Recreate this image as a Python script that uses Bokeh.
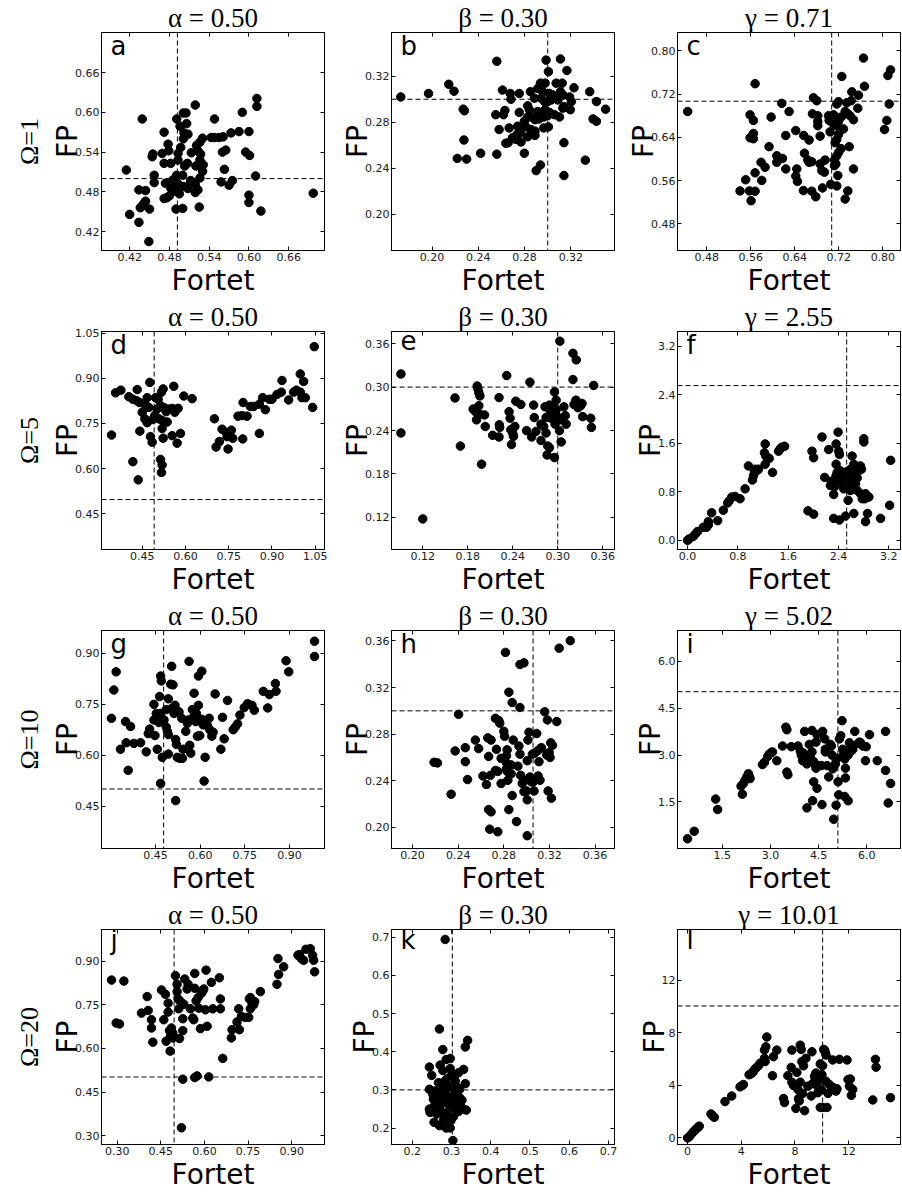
from bokeh.plotting import figure
from bokeh.models import Span, Label, Title, FixedTicker, PrintfTickFormatter, LinearAxis, Range1d
from bokeh.layouts import column, row
from bokeh.embed import file_html
from bokeh.resources import INLINE

# ---------------- data ----------------
a_x = [0.612,0.612,0.590,0.519,0.501,0.505,0.491,0.548,0.439,0.496,0.506,0.472,0.502,0.508,0.573,0.585,0.600,0.543,0.548,0.555,0.561,0.530,0.526,0.501,0.478,0.497,0.521,0.479,0.469,0.455,0.454,0.493,0.513,0.523,0.527,0.560,0.565,0.595,0.601,0.472,0.482,0.493,0.507,0.503,0.520,0.531,0.526,0.563,0.415,0.530,0.457,0.491,0.500,0.512,0.516,0.526,0.610,0.575,0.570,0.558,0.457,0.474,0.485,0.490,0.494,0.496,0.502,0.508,0.519,0.482,0.486,0.434,0.444,0.495,0.480,0.476,0.472,0.519,0.523,0.600,0.600,0.444,0.441,0.439,0.436,0.450,0.490,0.500,0.525,0.618,0.420,0.434,0.449,0.697]
a_y = [0.621,0.609,0.600,0.611,0.599,0.599,0.590,0.590,0.590,0.579,0.583,0.570,0.569,0.567,0.569,0.571,0.571,0.562,0.562,0.562,0.563,0.561,0.555,0.560,0.552,0.547,0.550,0.542,0.538,0.537,0.533,0.538,0.539,0.542,0.537,0.540,0.543,0.540,0.535,0.523,0.523,0.528,0.523,0.519,0.519,0.521,0.528,0.514,0.513,0.511,0.505,0.505,0.505,0.497,0.494,0.501,0.504,0.497,0.490,0.495,0.494,0.493,0.498,0.495,0.491,0.487,0.488,0.485,0.491,0.486,0.481,0.483,0.482,0.477,0.474,0.471,0.470,0.479,0.483,0.475,0.464,0.466,0.462,0.459,0.456,0.454,0.454,0.455,0.457,0.451,0.446,0.434,0.405,0.478]

b_x = [0.173,0.197,0.2145,0.219,0.256,0.2986,0.311,0.3006,0.3166,0.2937,0.2977,0.3073,0.3125,0.3227,0.2609,0.2676,0.2754,0.285,0.2914,0.2957,0.3015,0.3044,0.3059,0.311,0.3131,0.3189,0.3204,0.3363,0.3421,0.2682,0.2885,0.2943,0.2972,0.300,0.303,0.3088,0.314,0.3195,0.227,0.228,0.263,0.2551,0.2618,0.2754,0.2827,0.2841,0.2914,0.2948,0.2977,0.3015,0.3059,0.3102,0.3131,0.350,0.3392,0.3421,0.2827,0.2856,0.2798,0.289,0.2925,0.2966,0.300,0.258,0.2667,0.274,0.2812,0.2856,0.289,0.2966,0.3006,0.2734,0.2763,0.2696,0.2725,0.2638,0.2658,0.2769,0.2827,0.289,0.2276,0.314,0.2798,0.256,0.242,0.2299,0.2218,0.3325,0.2937,0.290,0.314]
b_y = [0.302,0.305,0.313,0.307,0.333,0.334,0.335,0.324,0.325,0.314,0.314,0.314,0.314,0.310,0.308,0.305,0.305,0.3066,0.3094,0.3066,0.305,0.3037,0.302,0.3066,0.3037,0.302,0.298,0.3066,0.298,0.300,0.3009,0.3009,0.298,0.298,0.2994,0.2994,0.2937,0.2909,0.2914,0.290,0.2903,0.2866,0.2866,0.2886,0.2943,0.2909,0.2894,0.288,0.2909,0.2886,0.2866,0.2846,0.2923,0.2914,0.2829,0.2809,0.2846,0.2846,0.2809,0.2823,0.2829,0.2846,0.2857,0.2737,0.2751,0.2766,0.276,0.2737,0.2723,0.2751,0.276,0.2694,0.2709,0.2666,0.2651,0.2617,0.2623,0.2629,0.2674,0.2686,0.2646,0.2623,0.2531,0.2523,0.2531,0.248,0.2486,0.2471,0.2429,0.238,0.2337]

c_x = [0.4455,0.7648,0.8139,0.8091,0.5679,0.7254,0.7666,0.7436,0.7557,0.6739,0.68,0.6164,0.7194,0.7163,0.7345,0.7424,0.8115,0.5588,0.5648,0.597,0.6297,0.6721,0.6818,0.6818,0.6818,0.7012,0.706,0.7103,0.7145,0.7194,0.7242,0.7315,0.7363,0.7406,0.7466,0.7545,0.7024,0.7085,0.7157,0.7285,0.8072,0.803,0.5588,0.5648,0.5648,0.6418,0.6236,0.6563,0.666,0.686,0.7042,0.7194,0.7163,0.7133,0.5933,0.7388,0.6073,0.6176,0.6073,0.6576,0.6636,0.666,0.6709,0.686,0.6951,0.7121,0.7145,0.7163,0.7194,0.7242,0.5788,0.5861,0.5679,0.58,0.5509,0.6236,0.6436,0.6418,0.6448,0.6891,0.6939,0.7121,0.7182,0.7466,0.5406,0.5576,0.5679,0.5606,0.6557,0.6709,0.6782,0.6903,0.7054,0.7163,0.7363,0.7315]
c_y = [0.688,0.7867,0.7649,0.7545,0.7394,0.7527,0.7346,0.7243,0.7182,0.7133,0.7079,0.703,0.7061,0.7018,0.7042,0.7079,0.7018,0.6818,0.6715,0.6776,0.6879,0.6836,0.68,0.6697,0.6618,0.68,0.6758,0.6818,0.6776,0.6697,0.6776,0.6879,0.6836,0.68,0.6727,0.694,0.6715,0.6667,0.6618,0.6558,0.6715,0.6545,0.6394,0.6376,0.6473,0.6527,0.6436,0.6436,0.6352,0.6424,0.6503,0.6455,0.6364,0.6303,0.623,0.623,0.6061,0.6012,0.594,0.6109,0.5982,0.594,0.5952,0.5909,0.5982,0.5982,0.5909,0.6061,0.6121,0.6194,0.594,0.5849,0.5746,0.5606,0.5618,0.5818,0.5818,0.5685,0.5588,0.5788,0.5758,0.5879,0.5697,0.5818,0.5412,0.5412,0.5406,0.523,0.5418,0.5406,0.5303,0.5467,0.5533,0.5503,0.5412,0.5261]

d_x = [0.3438,0.3577,0.3761,0.4038,0.4177,0.4327,0.4327,0.4408,0.4765,0.4673,0.4615,0.4731,0.45,0.4592,0.4673,0.4419,0.4788,0.4846,0.4177,0.4362,0.4962,0.5019,0.4938,0.4869,0.5077,0.5192,0.5227,0.5169,0.5054,0.5135,0.525,0.5331,0.54,0.5192,0.5227,0.5366,0.5538,0.5631,0.5746,0.5596,0.5942,0.6231,0.5538,0.5827,0.5712,0.5135,0.5192,0.5169,0.7004,0.7062,0.7177,0.7269,0.7408,0.7443,0.7477,0.7592,0.7639,0.7823,0.7962,0.7997,0.8135,0.825,0.8366,0.7985,0.8562,0.8677,0.877,0.8908,0.9,0.9173,0.9324,0.9347,0.9577,0.975,0.9843,0.9981,1.0039,1.0154,0.9981,1.0097,1.0408,1.0466,0.8562]
d_y = [0.7112,0.8514,0.8601,0.8385,0.8299,0.8622,0.8245,0.8191,0.886,0.8353,0.8104,0.8029,0.7867,0.7651,0.7522,0.7241,0.7058,0.6874,0.6227,0.5623,0.8353,0.7975,0.7759,0.763,0.7651,0.7597,0.8644,0.8536,0.8299,0.8083,0.8029,0.7889,0.7975,0.7328,0.7004,0.7543,0.7997,0.7867,0.7997,0.873,0.8407,0.832,0.709,0.7166,0.6842,0.6302,0.6119,0.5871,0.7651,0.6713,0.6896,0.7306,0.7198,0.7058,0.6648,0.7274,0.7004,0.7738,0.7759,0.8191,0.7738,0.8061,0.8061,0.6982,0.8137,0.8353,0.7953,0.8299,0.8299,0.846,0.8536,0.8924,0.8277,0.8536,0.8601,0.8536,0.8353,0.8353,0.914,0.8892,0.8029,1.0047,0.7166]

e_x = [0.0909,0.0909,0.12,0.163,0.1702,0.1984,0.1926,0.1935,0.1948,0.1962,0.1872,0.1903,0.1962,0.2024,0.1948,0.1917,0.2033,0.2132,0.2217,0.2221,0.2226,0.2217,0.232,0.2351,0.2365,0.2374,0.2401,0.241,0.2383,0.2441,0.2508,0.2428,0.2584,0.2629,0.2652,0.2678,0.2687,0.271,0.2777,0.2777,0.2813,0.2844,0.2844,0.2831,0.2889,0.2902,0.2911,0.2867,0.2889,0.2858,0.2934,0.2947,0.2956,0.2965,0.2979,0.2979,0.2979,0.3023,0.3023,0.3046,0.3046,0.3082,0.31,0.3113,0.2956,0.3028,0.3203,0.3247,0.3203,0.3216,0.3243,0.327,0.3306,0.3324,0.3332,0.344,0.3449,0.348]
e_y = [0.3181,0.2366,0.1179,0.285,0.2185,0.1935,0.3014,0.2977,0.2923,0.2878,0.2696,0.266,0.2624,0.2615,0.2742,0.2547,0.2456,0.2334,0.2855,0.2479,0.2443,0.2311,0.3159,0.266,0.257,0.2411,0.2361,0.232,0.2207,0.2805,0.276,0.2456,0.2398,0.3068,0.2311,0.2751,0.2579,0.2388,0.2488,0.2262,0.2456,0.2579,0.2366,0.2728,0.2751,0.266,0.257,0.2185,0.2162,0.2062,0.2579,0.2751,0.2932,0.2488,0.2819,0.2683,0.2606,0.257,0.2398,0.2243,0.2547,0.2728,0.2606,0.2488,0.2026,0.3634,0.3467,0.3376,0.3104,0.276,0.2819,0.2715,0.2742,0.2774,0.2592,0.257,0.2443,0.3023]

f_x = [0.0,0.021,0.090,0.128,0.160,0.250,0.303,0.330,0.330,0.383,0.479,0.569,0.638,0.660,0.702,0.755,0.835,0.915,0.968,1.032,1.048,1.064,1.074,1.101,1.128,1.234,1.223,1.245,1.234,1.298,1.351,1.447,1.473,1.5,1.543,1.915,2.005,2.005,1.979,2.138,2.245,2.394,2.362,2.404,2.415,2.362,2.287,2.324,2.362,2.378,2.431,2.447,2.404,2.34,2.324,2.324,2.415,2.511,2.553,2.484,2.511,2.537,2.590,2.628,2.644,2.670,2.697,2.75,2.766,2.723,2.644,2.617,2.617,2.75,2.777,2.819,2.830,2.883,2.862,2.644,2.830,2.617,2.553,2.803,2.803,3.069,3.213,3.229,2.590,2.697,2.457,2.181,2.271]
f_y = [0.0,0.022,0.065,0.108,0.146,0.216,0.216,0.254,0.308,0.454,0.324,0.497,0.616,0.649,0.714,0.724,0.686,0.849,1.227,0.995,1.065,1.135,1.173,1.146,1.173,1.589,1.443,1.389,1.254,1.351,1.119,1.470,1.508,1.535,1.551,0.486,0.432,1.362,1.470,1.703,1.497,1.784,1.589,1.470,1.416,1.254,0.973,0.984,1.065,1.119,1.146,1.065,0.995,0.886,0.757,0.362,0.335,0.4,0.659,0.849,0.995,1.135,1.173,1.065,0.984,0.930,0.822,1.227,1.173,1.146,1.254,1.389,0.876,0.768,0.686,0.686,0.768,0.714,0.443,0.443,0.308,1.011,0.973,1.676,1.622,0.362,0.578,1.319,0.822,1.027,0.930,1.038,0.903]

g_x = [0.3015,0.3094,0.3173,0.3319,0.3488,0.351,0.3578,0.3656,0.3769,0.3994,0.4185,0.4253,0.4298,0.4444,0.4444,0.4478,0.4523,0.4556,0.459,0.4613,0.4669,0.4635,0.4669,0.4691,0.4725,0.4669,0.4781,0.486,0.486,0.4894,0.4928,0.4928,0.4928,0.5006,0.504,0.504,0.5085,0.5119,0.5153,0.5175,0.5175,0.5198,0.5231,0.5288,0.531,0.5378,0.54,0.5423,0.5513,0.5569,0.5603,0.5625,0.5648,0.5681,0.5738,0.5794,0.5794,0.585,0.5873,0.5906,0.594,0.594,0.5985,0.6053,0.6053,0.6098,0.6131,0.6165,0.6244,0.63,0.6323,0.639,0.6435,0.6503,0.6694,0.675,0.6806,0.6919,0.711,0.7178,0.7256,0.7335,0.7481,0.7594,0.774,0.7819,0.8123,0.8269,0.8325,0.8528,0.855,0.8888,0.8978,0.9844,0.9844]
g_y = [0.7086,0.7919,0.8455,0.6177,0.699,0.6368,0.5555,0.6847,0.6349,0.6368,0.61,0.6636,0.677,0.7497,0.7038,0.6579,0.723,0.6177,0.699,0.6962,0.723,0.7727,0.833,0.8187,0.5938,0.5172,0.7038,0.7344,0.6828,0.6703,0.6608,0.6033,0.766,0.8091,0.8617,0.7373,0.8072,0.723,0.7469,0.6464,0.4665,0.632,0.5938,0.7277,0.5909,0.7086,0.5909,0.6177,0.6703,0.6942,0.7038,0.8761,0.6292,0.6062,0.7344,0.7823,0.7153,0.699,0.723,0.656,0.7469,0.833,0.6579,0.8474,0.7057,0.6895,0.5239,0.5938,0.6866,0.7086,0.6751,0.656,0.6675,0.7804,0.6177,0.7115,0.6483,0.7612,0.6751,0.6828,0.6923,0.7182,0.7402,0.7517,0.7469,0.7325,0.788,0.7392,0.7785,0.811,0.788,0.878,0.8455,0.9354,0.8904]

h_x = [0.2188,0.2218,0.2338,0.2373,0.2403,0.2462,0.2462,0.2482,0.255,0.2579,0.2617,0.2647,0.2659,0.2667,0.2682,0.2688,0.2667,0.2688,0.2676,0.2747,0.2726,0.2726,0.2735,0.2747,0.2756,0.2764,0.2776,0.2776,0.28,0.2806,0.2823,0.2829,0.2823,0.2823,0.2829,0.2835,0.2844,0.2844,0.2864,0.2864,0.2873,0.2882,0.2873,0.2911,0.2923,0.2932,0.2941,0.2941,0.2947,0.2961,0.2976,0.2976,0.3,0.3005,0.3005,0.3005,0.3011,0.302,0.3029,0.3041,0.305,0.3058,0.3064,0.307,0.3088,0.3094,0.31,0.3108,0.3117,0.3123,0.3129,0.3158,0.3176,0.3182,0.3188,0.3197,0.3205,0.3217,0.3211,0.3226,0.3264,0.2941,0.2976,0.2814,0.3285,0.3382]
h_y = [0.2558,0.2553,0.2284,0.2656,0.297,0.2684,0.2564,0.241,0.2749,0.2676,0.2441,0.2368,0.2768,0.2609,0.2446,0.2749,0.2152,0.2133,0.1984,0.1962,0.2936,0.2488,0.267,0.248,0.2917,0.2894,0.2592,0.2376,0.2824,0.2782,0.2614,0.2665,0.2553,0.2502,0.248,0.2404,0.316,0.2152,0.2536,0.246,0.3071,0.2749,0.2273,0.2049,0.2525,0.2698,0.3029,0.2628,0.2446,0.2376,0.2404,0.2306,0.2312,0.2572,0.2236,0.1928,0.2749,0.2816,0.2432,0.239,0.2628,0.239,0.2312,0.2637,0.2805,0.2656,0.2441,0.2564,0.2404,0.2676,0.2684,0.2992,0.262,0.2922,0.2312,0.2642,0.26,0.225,0.2726,0.2704,0.2908,0.3398,0.3412,0.3502,0.3538,0.3603]

i_x = [0.416,0.625,1.292,1.354,2.084,2.125,2.156,2.209,2.261,2.313,2.334,2.365,2.750,2.813,2.917,2.959,3.021,3.063,3.198,3.376,3.480,3.511,3.511,3.542,3.647,3.855,3.928,3.959,4.001,4.063,4.032,4.084,4.168,4.136,4.209,4.240,4.293,4.293,4.345,4.345,4.397,4.418,4.418,4.449,4.522,4.584,4.626,4.689,4.709,4.761,4.814,4.866,4.897,4.918,4.939,4.970,5.022,5.043,5.074,5.105,5.126,5.043,4.970,5.147,5.189,5.230,5.251,5.283,5.314,5.335,5.335,5.355,5.314,5.418,5.418,5.460,5.522,5.564,5.626,5.731,5.772,5.803,5.876,5.960,5.981,6.085,6.325,6.585,6.585,6.668,6.741,4.449,4.313,4.136,4.605,4.709]
i_y = [0.321,0.561,1.592,1.259,2.009,1.749,2.093,2.197,2.301,2.405,2.332,2.249,2.697,2.770,2.957,3.030,3.082,3.103,2.822,3.291,3.895,3.812,2.457,2.374,3.270,3.291,3.135,3.0,2.822,3.760,3.062,2.874,2.957,2.718,3.343,2.978,3.791,3.103,2.791,2.145,2.686,3.416,2.582,3.655,2.666,2.666,3.760,3.520,3.103,2.666,2.301,3.343,3.291,3.0,2.561,2.645,2.718,2.874,2.895,2.145,1.728,1.395,0.946,3.520,3.624,4.104,3.187,3.030,2.874,2.270,2.582,3.135,1.676,3.0,1.540,3.395,3.135,3.187,3.760,3.374,3.416,3.395,3.291,2.822,3.270,3.655,2.822,3.760,2.509,1.467,2.093,1.936,1.540,1.311,1.415,3.187]

j_x = [0.2805,0.3229,0.2966,0.308,0.3836,0.403,0.4065,0.4179,0.4179,0.4225,0.4523,0.4603,0.466,0.4683,0.4752,0.4752,0.4798,0.4821,0.4832,0.4866,0.4912,0.4912,0.5004,0.5061,0.5061,0.5095,0.5118,0.5141,0.5176,0.521,0.5256,0.5256,0.5256,0.521,0.529,0.5324,0.5405,0.5439,0.5519,0.5599,0.5634,0.5668,0.5668,0.5748,0.5668,0.5714,0.5782,0.5805,0.5863,0.5897,0.5943,0.5977,0.6057,0.6034,0.6092,0.6149,0.6286,0.624,0.6515,0.655,0.655,0.663,0.6927,0.695,0.7122,0.7179,0.7202,0.7271,0.7408,0.7523,0.7546,0.758,0.758,0.7637,0.7695,0.7729,0.7924,0.8496,0.8553,0.853,0.8725,0.9217,0.9263,0.9332,0.9412,0.9492,0.9641,0.9721,0.9756,0.979]
j_y = [0.8352,0.8318,0.6876,0.6842,0.7216,0.7784,0.7307,0.6989,0.6705,0.6217,0.8012,0.6989,0.7864,0.6251,0.7557,0.7251,0.6614,0.591,0.6421,0.6705,0.6535,0.6364,0.85,0.8205,0.7955,0.7705,0.7364,0.6342,0.7614,0.75,0.7023,0.6614,0.4944,0.3275,0.7523,0.8387,0.8046,0.8205,0.7364,0.7046,0.6989,0.858,0.5001,0.5058,0.8068,0.7637,0.775,0.7387,0.6683,0.7898,0.7978,0.8046,0.8693,0.733,0.6762,0.5024,0.7364,0.8273,0.8432,0.7705,0.7364,0.566,0.6364,0.6648,0.691,0.7364,0.6648,0.7103,0.7069,0.7069,0.7705,0.7364,0.775,0.7557,0.75,0.7614,0.7955,0.8205,0.8546,0.9091,0.8807,0.9204,0.9227,0.9091,0.9034,0.9409,0.9432,0.9204,0.9034,0.8636]

k_x = [0.2838,0.2693,0.2778,0.3411,0.3351,0.2436,0.2496,0.271,0.2778,0.2864,0.2966,0.2966,0.2881,0.3009,0.3069,0.318,0.3308,0.2436,0.2522,0.2581,0.2667,0.2752,0.2812,0.2881,0.2966,0.3035,0.3094,0.3154,0.3206,0.3351,0.2436,0.2453,0.2539,0.2581,0.2641,0.2693,0.2752,0.2812,0.2838,0.2898,0.2923,0.2966,0.3009,0.3052,0.3094,0.3137,0.3206,0.3265,0.3308,0.3377,0.2556,0.2693,0.2795,0.2864,0.2966,0.2983,0.3035,0.3094,0.3154,0.2624,0.271,0.2795,0.2881,0.2923,0.3052,0.318,0.2539,0.2624,0.2752,0.2838,0.3094,0.2667,0.3223]
k_y = [0.6939,0.4593,0.4056,0.4298,0.4125,0.3597,0.338,0.3649,0.351,0.3796,0.3822,0.3562,0.3294,0.3423,0.3363,0.3449,0.3536,0.3016,0.2887,0.2973,0.293,0.2973,0.299,0.306,0.3077,0.3103,0.2973,0.306,0.3016,0.3164,0.2497,0.241,0.254,0.2627,0.2713,0.2557,0.2757,0.267,0.28,0.2843,0.2627,0.2731,0.2583,0.2843,0.2713,0.2757,0.28,0.2731,0.2497,0.2471,0.215,0.2064,0.2194,0.2003,0.2003,0.2194,0.1674,0.2497,0.2454,0.2367,0.2454,0.235,0.241,0.228,0.2298,0.2436,0.2757,0.2843,0.3146,0.3233,0.3233,0.319,0.2627]

l_x = [0,0.1,0.249,0.423,0.548,0.672,0.797,0.872,1.743,1.843,1.992,2.789,3.287,3.909,4.084,4.158,4.582,4.731,4.831,4.905,4.98,5.08,5.279,5.403,5.727,5.777,5.727,5.827,5.901,6.399,6.325,6.648,7.146,7.221,7.47,7.769,7.719,7.769,7.893,8.068,8.068,8.142,8.217,8.267,8.317,8.391,8.391,8.466,8.516,8.566,8.64,8.715,8.815,8.964,9.263,9.213,9.462,9.562,9.636,9.711,9.761,9.811,9.885,9.96,10.01,10.06,10.134,10.209,10.259,10.309,9.885,10.06,10.383,10.309,10.458,10.558,10.807,10.881,11.056,11.13,11.305,11.877,11.952,12.052,12.126,12.201,12.301,13.795,13.994,14.044,15.114,9.761,9.313]
l_y = [0,0.075,0.25,0.449,0.574,0.699,0.823,0.898,1.821,1.697,1.572,2.769,3.194,3.892,3.992,4.067,4.815,4.89,4.99,5.065,5.19,5.314,5.489,5.689,6.063,5.813,6.687,6.936,7.685,6.188,4.741,6.687,2.994,2.695,4.741,6.687,5.364,4.242,3.992,3.992,2.246,4.99,3.693,2.994,2.819,4.242,7.061,6.737,5.813,3.393,5.489,2.071,6.063,3.942,6.562,3.194,4.691,4.94,3.992,3.443,4.441,3.693,5.639,3.693,4.815,5.489,6.737,6.687,6.487,6.312,2.32,2.32,2.32,4.316,3.393,4.067,5.938,3.817,3.568,3.743,5.988,5.938,4.441,3.942,4.491,3.244,3.693,2.894,5.988,5.389,3.069,4.391,4.142]

letters = ["a", "b", "c", "d", "e", "f", "g", "h", "i", "j", "k", "l"]
titles = ["α = 0.50", "β = 0.30", "γ = 0.71", "α = 0.50", "β = 0.30", "γ = 2.55",
          "α = 0.50", "β = 0.30", "γ = 5.02", "α = 0.50", "β = 0.30", "γ = 10.01"]
row_titles = ["Ω=1", "Ω=5", "Ω=10", "Ω=20"]
xs = [a_x, b_x, c_x, d_x, e_x, f_x, g_x, h_x, i_x, j_x, k_x, l_x]
ys = [a_y, b_y, c_y, d_y, e_y, f_y, g_y, h_y, i_y, j_y, k_y, l_y]

ticks = [
    [0.42, 0.48, 0.54, 0.60, 0.66], [0.20, 0.24, 0.28, 0.32], [0.48, 0.56, 0.64, 0.72, 0.80],
    [0.45, 0.60, 0.75, 0.90, 1.05], [0.12, 0.18, 0.24, 0.30, 0.36], [0.0, 0.8, 1.6, 2.4, 3.2],
    [0.45, 0.60, 0.75, 0.90], [0.20, 0.24, 0.28, 0.32, 0.36], [1.5, 3.0, 4.5, 6.0],
    [0.30, 0.45, 0.60, 0.75, 0.90], [0.2, 0.3, 0.4, 0.5, 0.6, 0.7], [0, 4, 8, 12],
]
fmts = ["%.2f", "%.2f", "%.2f", "%.2f", "%.2f", "%.1f", "%.2f", "%.2f", "%.1f", "%.2f", "%.1f", "%d"]
x_ranges = [(0.3775, 0.714), (0.165, 0.3577), (0.427, 0.832), (0.309, 1.082), (0.0783, 0.3757), (-0.16, 3.386),
            (0.268, 1.018), (0.1815, 0.377), (0.104, 7.05), (0.246, 1.013), (0.147, 0.7155), (-0.75, 15.86)]
y_ranges = [(0.3915, 0.7205), (0.1686, 0.358), (0.431, 0.834), (0.331, 1.055), (0.0756, 0.3768), (-0.151, 3.443),
            (0.3256, 0.967), (0.1818, 0.369), (0.01, 6.99), (0.270, 1.009), (0.157, 0.72), (-0.5, 15.87)]
true_x = [0.492, 0.300, 0.707, 0.4915, 0.300, 2.53, 0.477, 0.3056, 5.10, 0.4957, 0.302, 10.06]
true_y = [0.500, 0.300, 0.707, 0.497, 0.300, 2.551, 0.5007, 0.300, 5.03, 0.502, 0.300, 10.05]

# ---------------- layout ----------------
FW, FH = 223, 221
LEFT = [101, 63, 60]
RIGHT = [4, 3, 2]
TOP = [30, 30, 30, 30]
BOTTOM = [48, 48, 48, 45]
TICK_FONT = "DejaVu Sans"


def style_axis(ax, tk, fmt, labels=True):
    ax.ticker = FixedTicker(ticks=tk, minor_ticks=[])
    ax.formatter = PrintfTickFormatter(format=fmt)
    ax.major_tick_in = 4
    ax.major_tick_out = 0
    ax.minor_tick_in = 0
    ax.minor_tick_out = 0
    ax.axis_line_color = "black"
    ax.major_tick_line_color = "black"
    ax.major_label_text_font = TICK_FONT
    if labels:
        ax.major_label_text_color = "#1a1a1a"
        ax.major_label_text_font_size = "11px"
        ax.major_label_standoff = 2
    else:
        ax.major_label_text_color = None
        ax.major_label_text_alpha = 0
        ax.major_label_text_font_size = "1px"
        ax.major_label_standoff = 0


def make_panel(i):
    r, c = divmod(i, 3)
    w = LEFT[c] + FW + RIGHT[c]
    h = TOP[r] + FH + BOTTOM[r]
    p = figure(width=w, height=h, output_backend="svg", toolbar_location=None,
               x_range=Range1d(*x_ranges[i]), y_range=Range1d(*y_ranges[i]),
               min_border_left=LEFT[c], min_border_right=RIGHT[c],
               min_border_top=TOP[r], min_border_bottom=BOTTOM[r],
               title=titles[i])
    p.xgrid.visible = False
    p.ygrid.visible = False
    p.outline_line_color = "black"
    p.outline_line_width = 1
    p.background_fill_color = "white"
    p.border_fill_color = "white"

    p.title.align = "center"
    p.title.text_font = "Liberation Serif"
    p.title.text_font_size = "27px"
    p.title.text_font_style = "normal"
    p.title.text_color = "black"
    p.title.standoff = 0

    style_axis(p.xaxis[0], ticks[i], fmts[i])
    style_axis(p.yaxis[0], ticks[i], fmts[i])
    for ax in (p.xaxis[0], p.yaxis[0]):
        ax.axis_label_text_font = "DejaVu Sans"
        ax.axis_label_text_font_size = "28px"
        ax.axis_label_text_font_style = "normal"
        ax.axis_label_text_color = "black"
    p.xaxis[0].axis_label_standoff = 0
    p.yaxis[0].axis_label_standoff = -12
    p.xaxis[0].axis_label = "Fortet"
    p.yaxis[0].axis_label = "FP"

    top_ax = LinearAxis()
    style_axis(top_ax, ticks[i], fmts[i], labels=False)
    p.add_layout(top_ax, "above")
    right_ax = LinearAxis()
    style_axis(right_ax, ticks[i], fmts[i], labels=False)
    p.add_layout(right_ax, "right")

    if c == 0:
        p.add_layout(Title(text=row_titles[r], align="center", text_font="Liberation Serif",
                           text_font_size="26px", text_font_style="normal",
                           text_color="black", standoff=10), "left")

    p.add_layout(Span(location=true_x[i], dimension="height", line_color="black",
                      line_dash="5 3", line_width=1))
    p.add_layout(Span(location=true_y[i], dimension="width", line_color="black",
                      line_dash="5 3", line_width=1))

    n = min(len(xs[i]), len(ys[i]))
    p.scatter(xs[i][:n], ys[i][:n], size=8.5, color="black", line_color="black")

    p.add_layout(Label(x=9, y=FH - 1, x_units="screen", y_units="screen", text=letters[i],
                       text_font="DejaVu Sans", text_font_size="26px", text_baseline="top",
                       text_color="black"))
    return p


panels = [make_panel(i) for i in range(12)]
layout = column(*[row(*panels[3 * r:3 * r + 3]) for r in range(4)])

open("out.html", "w").write(file_html(layout, INLINE))
